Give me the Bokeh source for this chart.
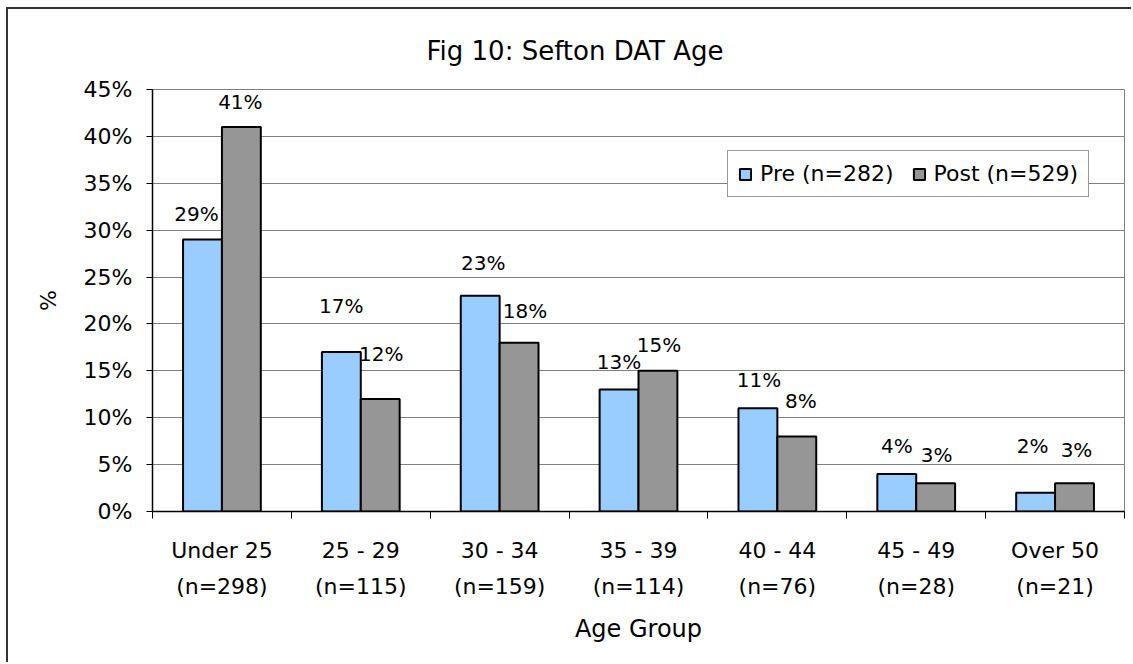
import numpy as np
from bokeh.plotting import figure
from bokeh.models import ColumnDataSource, FixedTicker, PrintfTickFormatter, Legend, LegendItem
from bokeh.core.properties import value
from bokeh.embed import file_html
from bokeh.resources import INLINE

# ---- data ----
categories = ["Under 25", "25 - 29", "30 - 34", "35 - 39", "40 - 44", "45 - 49", "Over 50"]
group_n = [298, 115, 159, 114, 76, 28, 21]
pre = [29, 17, 23, 13, 11, 4, 2]
post = [41, 12, 18, 15, 8, 3, 3]
series_names = ["Pre (n=282)", "Post (n=529)"]
y_ticks = [0, 5, 10, 15, 20, 25, 30, 35, 40, 45]

# ---- label nudges (pixels, as placed in the original) ----
pre_label_dy = [26, 46, 33, 28, 28, 28, 47]
post_label_dy = [25, 45, 32, 26, 35, 28, 33]
pre_label_dx = [-6, 0, 3, 0, 1, 0, -3]
post_label_dx = [-1, 1, 6, 1, 4, 1, 2]

FONT = "DejaVu Sans"
PRE_COLOR = "#99CCFF"
POST_COLOR = "#969696"
BAR_W = 0.28

centers = np.arange(len(categories)) + 0.5
tick_labels = [f"{c}\n(n={n})" for c, n in zip(categories, group_n)]

src_pre = ColumnDataSource(dict(
    x=centers - BAR_W / 2, top=pre,
    label=[f"{v}%" for v in pre],
    dx=pre_label_dx, dy=[-d for d in pre_label_dy]))
src_post = ColumnDataSource(dict(
    x=centers + BAR_W / 2, top=post,
    label=[f"{v}%" for v in post],
    dx=post_label_dx, dy=[-d for d in post_label_dy]))

p = figure(width=1125, height=655, x_range=(0, len(categories)), y_range=(0, 45),
           output_backend="svg", toolbar_location=None,
           min_border_left=144, min_border_right=9, min_border_top=80, min_border_bottom=153,
           styles={"margin-left": "6px", "margin-top": "7px",
                   "border-left": "2px solid #333333", "border-top": "2px solid #333333"})

p.background_fill_color = "white"
p.border_fill_color = "white"
p.outline_line_color = "#808080"
p.outline_line_width = 1

r_pre = p.vbar(x="x", top="top", width=BAR_W, bottom=0, source=src_pre,
               fill_color=PRE_COLOR, line_color="black", line_width=2)
r_post = p.vbar(x="x", top="top", width=BAR_W, bottom=0, source=src_post,
                fill_color=POST_COLOR, line_color="black", line_width=2)

for s in (src_pre, src_post):
    p.text(x="x", y="top", text="label", source=s, x_offset="dx", y_offset="dy",
           text_font=value(FONT), text_font_size="20px", text_color="black",
           text_align="center", text_baseline="middle")

# title
p.title.text = "Fig 10: Sefton DAT Age"
p.title.align = "left"
p.title.text_font = FONT
p.title.text_font_size = "26px"
p.title.text_font_style = "normal"
p.title.text_color = "black"
p.title.standoff = 48
p.title.offset = 274

# grid
p.xgrid.grid_line_color = None
p.ygrid.grid_line_color = "#808080"
p.ygrid.grid_line_width = 1
p.ygrid.ticker = FixedTicker(ticks=y_ticks)

# y axis
ya = p.yaxis[0]
ya.ticker = FixedTicker(ticks=y_ticks)
ya.formatter = PrintfTickFormatter(format="%d%%")
ya.axis_line_color = "black"
ya.axis_line_width = 1.5
ya.major_tick_in = 0
ya.major_tick_out = 6
ya.major_tick_line_color = "black"
ya.minor_tick_line_color = None
ya.major_label_text_font = FONT
ya.major_label_text_font_size = "22px"
ya.major_label_text_color = "black"
ya.major_label_standoff = 14
ya.axis_label = "%"
ya.axis_label_text_font = FONT
ya.axis_label_text_font_size = "22px"
ya.axis_label_text_font_style = "normal"
ya.axis_label_text_color = "black"
ya.axis_label_standoff = 20

# x axis
xa = p.xaxis[0]
xa.ticker = FixedTicker(ticks=list(centers), minor_ticks=list(range(len(categories) + 1)))
xa.major_label_overrides = {float(c): lab for c, lab in zip(centers, tick_labels)}
xa.axis_line_color = "black"
xa.axis_line_width = 1.5
xa.major_tick_in = 0
xa.major_tick_out = 0
xa.minor_tick_in = 0
xa.minor_tick_out = 7
xa.minor_tick_line_color = "black"
xa.major_label_text_font = FONT
xa.major_label_text_font_size = "22px"
xa.major_label_text_color = "black"
xa.major_label_text_line_height = 1.45
xa.major_label_standoff = 19
xa.axis_label = "Age Group"
xa.axis_label_text_font = FONT
xa.axis_label_text_font_size = "24px"
xa.axis_label_text_font_style = "normal"
xa.axis_label_text_color = "black"
xa.axis_label_standoff = 13

legend = Legend(items=[LegendItem(label=series_names[0], renderers=[r_pre]),
                       LegendItem(label=series_names[1], renderers=[r_post])],
                orientation="horizontal", location=(575, 314))
legend.label_text_font = FONT
legend.label_text_font_size = "22px"
legend.label_text_color = "black"
legend.glyph_width = 14
legend.glyph_height = 14
legend.label_standoff = 8
legend.spacing = 18
legend.padding = 10
legend.margin = 0
legend.border_line_color = "#333333"
legend.border_line_width = 1
legend.background_fill_color = "white"
legend.background_fill_alpha = 1
p.add_layout(legend, "center")

open("out.html", "w").write(file_html(p, INLINE))
